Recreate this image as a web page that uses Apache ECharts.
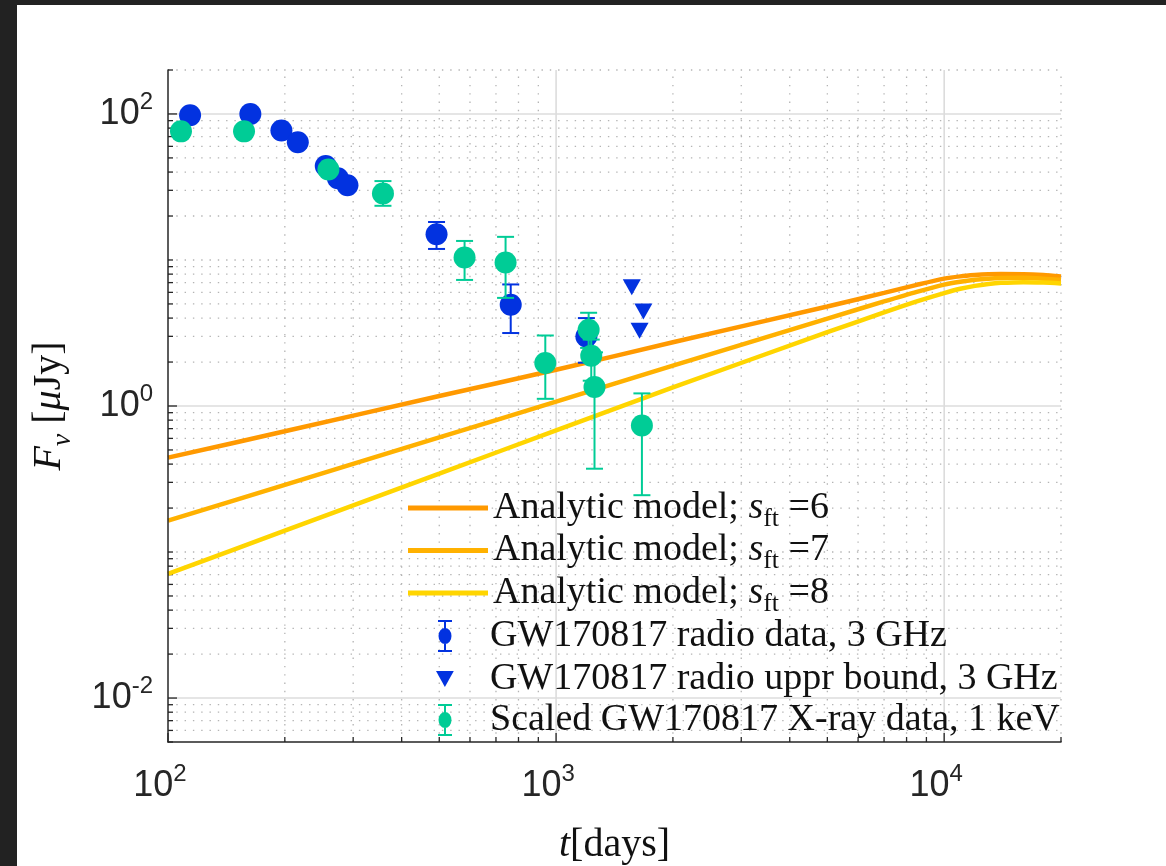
<!DOCTYPE html>
<html>
<head>
<meta charset="utf-8">
<title>GW170817 afterglow light curve</title>
<script src="https://cdn.jsdelivr.net/npm/echarts@6/dist/echarts.min.js"></script>
<style>
  html, body { margin: 0; padding: 0; width: 1166px; height: 866px; background: #222; overflow: hidden; }
  #chart { position: absolute; left: 17px; top: 5px; width: 1149px; height: 861px; background: #fff; }
</style>
</head>
<body>
<div id="chart"></div>
<script>
// ---- axis ranges and tick values -------------------------------------------
const X_MIN = 100, X_MAX = 20000;
const Y_MIN = 0.005, Y_MAX = 200;
const xMajorTicks = [100, 1000, 10000];
const yMajorTicks = [0.01, 1, 100];

// ---- analytic model curves (t in days, F in microJy) ------------------------
const modelT  = [100, 200, 500, 1000, 2000, 5000, 7000, 8500, 10000, 11000, 12000, 13000, 14000, 16000, 18000, 20000];
const modelS6 = [0.443, 0.671, 1.17, 1.77, 2.73, 4.8, 5.95, 6.75, 7.45, 7.72, 7.88, 7.98, 8.02, 8.0, 7.88, 7.7];
const modelS7 = [0.164, 0.288, 0.61, 1.07, 1.89, 3.97, 5.2, 6.05, 6.78, 7.1, 7.32, 7.45, 7.52, 7.55, 7.45, 7.3];
const modelS8 = [0.0708, 0.140, 0.344, 0.681, 1.34, 3.2, 4.37, 5.2, 5.93, 6.35, 6.65, 6.85, 6.97, 7.05, 7.0, 6.9];
const sftValues = [6, 7, 8];

// ---- GW170817 radio data, 3 GHz ----------------------------------------------
const radioT  = [114, 163, 196, 216, 255, 274, 290, 492, 764, 1197];
const radioF  = [98, 100, 77, 64, 44, 36.3, 32.5, 15.0, 4.93, 2.99];
const radioLo = [null, null, null, null, null, null, null, 11.9, 3.16, 1.98];
const radioHi = [null, null, null, null, null, null, null, 18.2, 6.8, 4.0];

// ---- radio upper bounds, 3 GHz -----------------------------------------------
const upperT = [1567, 1679, 1641];
const upperF = [6.5, 4.43, 3.27];

// ---- scaled X-ray data, 1 keV ------------------------------------------------
const xrayT  = [108, 157, 259, 358, 581, 741, 938, 1213, 1232, 1256, 1664];
const xrayF  = [76, 76, 41.6, 28.5, 10.4, 9.6, 1.97, 3.33, 2.21, 1.35, 0.736];
const xrayLo = [null, null, null, 23.5, 7.3, 5.5, 1.12, 2.5, 1.49, 0.372, 0.245];
const xrayHi = [null, null, null, 34.7, 13.5, 14.4, 3.04, 4.35, 2.85, 2.33, 1.22];

// ---- names ------------------------------------------------------------------
const modelNames = sftValues.map(v => 'Analytic model; s_ft =' + v);
const radioName = 'GW170817 radio data, 3 GHz';
const upperName = 'GW170817 radio uppr bound, 3 GHz';
const xrayName  = 'Scaled GW170817 X-ray data, 1 keV';

// ---- styles ----------------------------------------------------------------
const SERIF = "'Liberation Serif', 'Times New Roman', serif";
const SANS  = "'Liberation Sans Narrow', 'Liberation Sans', Arial, sans-serif";
const INK = '#262626';
const modelColors = ['#ff9900', '#ffb100', '#ffd500'];
const BLUE = '#0232e0';
const GREEN = '#00cc96';

const TRIANGLE = 'path://M0,0L20,0L10,18Z';
const ERR_ICON = 'path://M0,0H14V2H8V30H14V32H0V30H6V2H0Z M7,8A6.5,8 0 1 1 7,24A6.5,8 0 1 1 7,8Z';
const LINE_ICON = 'path://M0,0H80V5H0Z';

// minor grid positions: 2..9 within each decade, plus odd decades on y
function minorValues(lo, hi, fromExp, toExp) {
  const out = [];
  for (let e = fromExp; e <= toExp; e++) {
    for (let k = 2; k <= 9; k++) {
      const v = k * Math.pow(10, e);
      if (v >= lo * 0.9999 && v <= hi * 1.0001) out.push(v);
    }
  }
  return out;
}
const xMinorTicks = minorValues(X_MIN, X_MAX, 2, 4);
const yMinorTicks = minorValues(Y_MIN, Y_MAX, -3, 2).concat([0.1, 10]);

const xGridData = xMajorTicks.map(v => [v, Y_MIN, 1]).concat(xMinorTicks.map(v => [v, Y_MIN, 0]));
const yGridData = yMajorTicks.map(v => [X_MIN, v, 1]).concat(yMinorTicks.map(v => [X_MIN, v, 0]));

function gridStyle(major) {
  return major
    ? { stroke: '#dcdcdc', lineWidth: 1.6 }
    : { stroke: '#b4b4b4', lineWidth: 1.3, lineDash: [1.4, 6.9] };
}

function renderXGrid(params, api) {
  const v = api.value(0), major = api.value(2) === 1;
  const p0 = api.coord([v, Y_MIN]);
  const p1 = api.coord([v, Y_MAX]);
  const children = [];
  if (v !== X_MIN) {
    children.push({ type: 'line', shape: { x1: p0[0], y1: p0[1], x2: p1[0], y2: p1[1] }, style: gridStyle(major) });
  }
  const len = major ? 9 : 5;
  children.push({ type: 'line', shape: { x1: p0[0], y1: p0[1], x2: p0[0], y2: p0[1] - len }, style: { stroke: INK, lineWidth: 1.3 } });
  return { type: 'group', children };
}

function renderYGrid(params, api) {
  const v = api.value(1), major = api.value(2) === 1;
  const p0 = api.coord([X_MIN, v]);
  const p1 = api.coord([X_MAX, v]);
  const children = [];
  if (v !== Y_MIN) {
    children.push({ type: 'line', shape: { x1: p0[0], y1: p0[1], x2: p1[0], y2: p1[1] }, style: gridStyle(major) });
  }
  const len = major ? 9 : 5;
  children.push({ type: 'line', shape: { x1: p0[0], y1: p0[1], x2: p0[0] + len, y2: p0[1] }, style: { stroke: INK, lineWidth: 1.3 } });
  return { type: 'group', children };
}

function renderErrorBar(params, api) {
  const x = api.value(0), lo = api.value(1), hi = api.value(2);
  const a = api.coord([x, hi]);
  const b = api.coord([x, lo]);
  const w = 8.5;
  const style = { stroke: api.visual('color'), lineWidth: 2 };
  return {
    type: 'group',
    children: [
      { type: 'line', shape: { x1: a[0], y1: a[1], x2: b[0], y2: b[1] }, style },
      { type: 'line', shape: { x1: a[0] - w, y1: a[1], x2: a[0] + w, y2: a[1] }, style },
      { type: 'line', shape: { x1: b[0] - w, y1: b[1], x2: b[0] + w, y2: b[1] }, style }
    ]
  };
}

function zip(xs, ys) { return xs.map((x, i) => [x, ys[i]]); }
function errData(xs, lo, hi) {
  const out = [];
  xs.forEach((x, i) => { if (lo[i] != null && hi[i] != null) out.push([x, lo[i], hi[i]]); });
  return out;
}

function powerLabel(v) {
  const e = Math.log10(v);
  const r = Math.round(e);
  if (Math.abs(e - r) > 1e-6) return '';
  return '{b|10}{s|' + r + '}';
}
const tickRich = {
  b: { fontFamily: SANS, fontSize: 36, lineHeight: 48, color: INK },
  s: { fontFamily: SANS, fontSize: 24, lineHeight: 24, verticalAlign: 'top', color: INK }
};

const serifRich = {
  r:   { fontFamily: SERIF, fontSize: 38, lineHeight: 48, color: '#111' },
  i:   { fontFamily: SERIF, fontSize: 38, lineHeight: 48, fontStyle: 'italic', color: '#111' },
  sub: { fontFamily: SERIF, fontSize: 26, lineHeight: 24, verticalAlign: 'bottom', color: '#111' }
};

function modelLegendText(name) {
  const v = name.split('=')[1];
  return '{r|Analytic model; }{i|s}{sub|ft}{r| =' + v + '}';
}

const markerText = { fontFamily: SERIF, fontSize: 38, lineHeight: 32, color: '#111' };

const chart = echarts.init(document.getElementById('chart'), null, { renderer: 'canvas' });

const option = {
  animation: false,
  backgroundColor: '#ffffff',
  grid: { left: 151, top: 65, width: 893, height: 672, containLabel: false, outerBoundsMode: 'none' },
  xAxis: {
    type: 'log', logBase: 10, min: X_MIN, max: X_MAX, z: 10,
    name: '{i|t}{r|[days]}',
    nameLocation: 'middle', nameGap: 79,
    nameTextStyle: {
      rich: {
        i: { fontFamily: SERIF, fontSize: 40, lineHeight: 48, fontStyle: 'italic', color: '#111' },
        r: { fontFamily: SERIF, fontSize: 40, lineHeight: 48, color: '#111' }
      }
    },
    axisLine: { show: true, lineStyle: { color: INK, width: 1.5 } },
    axisTick: { show: false },
    splitLine: { show: false },
    minorTick: { show: false },
    axisLabel: { formatter: powerLabel, margin: 20, rich: tickRich, padding: [0, 16, 0, 0] }
  },
  yAxis: {
    type: 'log', logBase: 100, min: Y_MIN, max: Y_MAX, z: 10,
    name: '{i|F}{sub|\u03bd}{r| [}{i|\u03bc}{r|Jy]}',
    nameLocation: 'middle', nameGap: 91, nameRotate: 90,
    nameTextStyle: {
      rich: {
        i:   { fontFamily: SERIF, fontSize: 40, lineHeight: 56, fontStyle: 'italic', color: '#111' },
        r:   { fontFamily: SERIF, fontSize: 40, lineHeight: 56, color: '#111' },
        sub: { fontFamily: SERIF, fontSize: 28, lineHeight: 28, fontStyle: 'italic', verticalAlign: 'bottom', color: '#111' }
      }
    },
    axisLine: { show: true, lineStyle: { color: INK, width: 1.5 } },
    axisTick: { show: false },
    splitLine: { show: false },
    minorTick: { show: false },
    axisLabel: { formatter: powerLabel, margin: 15, rich: tickRich }
  },
  legend: [
    {
      orient: 'vertical', left: 386, top: 479, itemWidth: 80, itemHeight: 14, itemGap: -0.5,
      selectedMode: false, icon: LINE_ICON,
      data: modelNames,
      formatter: modelLegendText,
      textStyle: { rich: serifRich }
    },
    {
      orient: 'vertical', left: 416, top: 607, itemWidth: 80, itemHeight: 32,
      selectedMode: false,
      data: [{ name: radioName, icon: ERR_ICON }],
      textStyle: markerText
    },
    {
      orient: 'vertical', left: 414, top: 650, itemWidth: 80, itemHeight: 16,
      selectedMode: false,
      data: [{ name: upperName, icon: TRIANGLE }],
      textStyle: markerText
    },
    {
      orient: 'vertical', left: 416, top: 691, itemWidth: 80, itemHeight: 32,
      selectedMode: false,
      data: [{ name: xrayName, icon: ERR_ICON }],
      textStyle: markerText
    }
  ],
  series: [
    {
      type: 'custom', name: 'x grid', z: 1, silent: true,
      data: xGridData, encode: { x: 0, y: 1 }, renderItem: renderXGrid
    },
    {
      type: 'custom', name: 'y grid', z: 1, silent: true,
      data: yGridData, encode: { x: 0, y: 1 }, renderItem: renderYGrid
    },
    ...[modelS6, modelS7, modelS8].map((vals, k) => ({
      type: 'line', name: modelNames[k], z: 2,
      data: zip(modelT, vals),
      smooth: 0.25, symbol: 'none',
      lineStyle: { color: modelColors[k], width: 4.5 },
      itemStyle: { color: modelColors[k] }
    })),
    {
      type: 'custom', name: 'radio error', z: 3,
      data: errData(radioT, radioLo, radioHi), encode: { x: 0, y: [1, 2] },
      itemStyle: { color: BLUE }, renderItem: renderErrorBar
    },
    {
      type: 'scatter', name: radioName, z: 4,
      data: zip(radioT, radioF), symbol: 'circle', symbolSize: 22,
      itemStyle: { color: BLUE, opacity: 1 }
    },
    {
      type: 'scatter', name: upperName, z: 4,
      data: zip(upperT, upperF), symbol: TRIANGLE, symbolSize: [18, 16],
      itemStyle: { color: BLUE, opacity: 1 }
    },
    {
      type: 'custom', name: 'x-ray error', z: 5,
      data: errData(xrayT, xrayLo, xrayHi), encode: { x: 0, y: [1, 2] },
      itemStyle: { color: GREEN }, renderItem: renderErrorBar
    },
    {
      type: 'scatter', name: xrayName, z: 6,
      data: zip(xrayT, xrayF), symbol: 'circle', symbolSize: 22,
      itemStyle: { color: GREEN, opacity: 1 }
    }
  ]
};

chart.setOption(option);
</script>
</body>
</html>
